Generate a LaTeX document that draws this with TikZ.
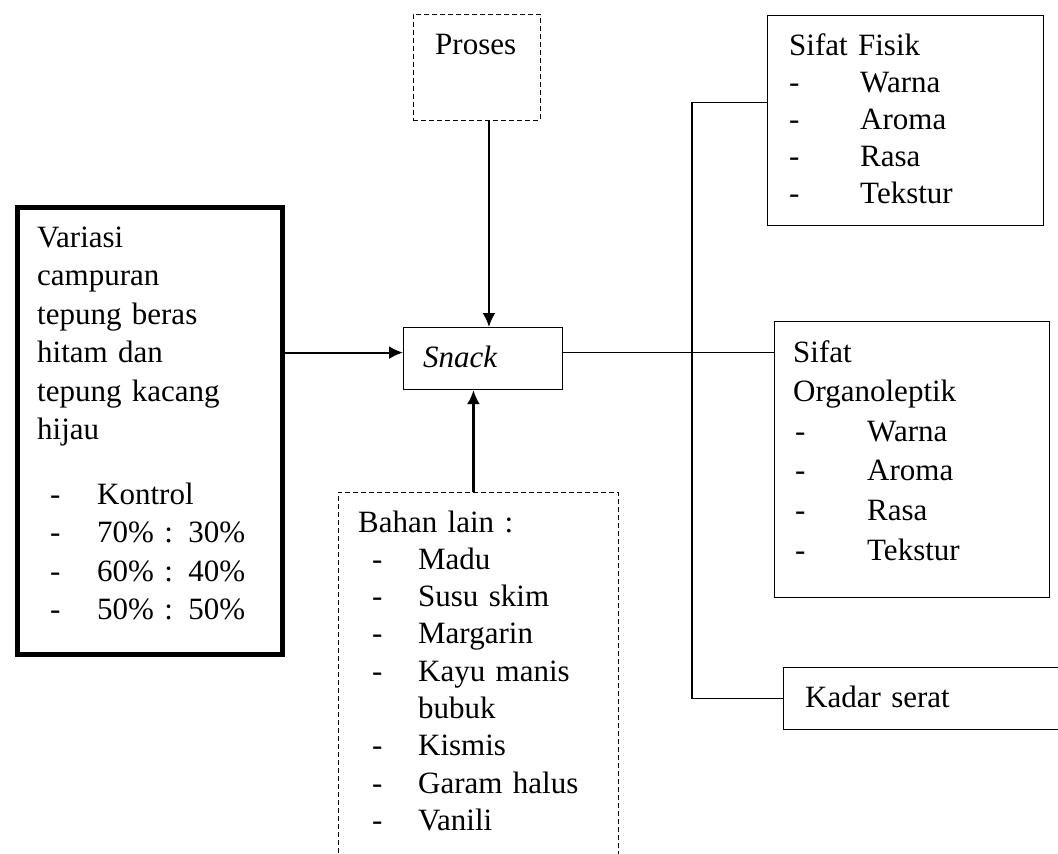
\documentclass[tikz,border=0pt]{standalone}
\usepackage{fontspec}
\setmainfont{Liberation Serif}
\usetikzlibrary{arrows.meta,calc,positioning}
\newcommand{\dashitem}[3]{\hspace*{#1pt}\makebox[#2pt][l]{-}#3}

\begin{document}
\begin{tikzpicture}[x=1pt,y=-1pt,>={Latex[length=14pt,width=13pt]},
    box/.style={draw,line width=1.2pt,inner sep=0pt,anchor=north west},
    dbox/.style={box,line width=0.9pt,dash pattern=on 5pt off 3pt},
    txt/.style={anchor=base west,inner sep=0pt,align=left,text width=250pt,
      font=\fontsize{31}{#1}\selectfont},
    txt/.default=38.5,
    arr/.style={->,line width=2.2pt},
    link/.style={line width=1.2pt}]
  \useasboundingbox (0,0) rectangle (1058,854);
  \clip (0,0) rectangle (1058,854);

  % kotak
  \node[dbox,minimum width=127pt,minimum height=106pt] (proses) at (413,14) {};
  \node[box,minimum width=159pt,minimum height=62pt] (snack) at (403,327) {};
  \node[box,line width=5pt,minimum width=265pt,minimum height=447pt] (variasi) at (14.5,204.5) {};
  \node[dbox,minimum width=280pt,minimum height=420pt] (bahan) at (338,492) {};
  \node[box,minimum width=276pt,minimum height=210pt] (fisik) at (767,15) {};
  \node[box,minimum width=275pt,minimum height=276pt] (organo) at (774,321) {};
  \node[box,minimum width=300pt,minimum height=62pt] (kadar) at (783,667) {};

  % teks
  \node[txt] (prosestxt) at (435,54) {Proses};
  \node[txt] (snacktxt) at (423,367) {\textit{Snack}};
  \node[txt] (variasitxt) at (37,247) {Variasi\\campuran\\tepung beras\\hitam dan\\tepung kacang\\hijau\\[26pt]
    \dashitem{13}{47}{Kontrol}\\\dashitem{13}{47}{70\% : 30\%}\\
    \dashitem{13}{47}{60\% : 40\%}\\\dashitem{13}{47}{50\% : 50\%}};
  \node[txt=37.3] (bahantxt) at (358,532) {Bahan lain :\\
    \dashitem{14}{46}{Madu}\\\dashitem{14}{46}{Susu skim}\\\dashitem{14}{46}{Margarin}\\
    \dashitem{14}{46}{Kayu manis}\\\hspace*{60pt}bubuk\\\dashitem{14}{46}{Kismis}\\
    \dashitem{14}{46}{Garam halus}\\\dashitem{14}{46}{Vanili}};
  \node[txt=37] (fisiktxt) at (789,55) {Sifat Fisik\\
    \dashitem{0}{71}{Warna}\\\dashitem{0}{71}{Aroma}\\\dashitem{0}{71}{Rasa}\\\dashitem{0}{71}{Tekstur}};
  \node[txt=39.6] (organotxt) at (793,362) {Sifat\\Organoleptik\\
    \dashitem{2}{72}{Warna}\\\dashitem{2}{72}{Aroma}\\\dashitem{2}{72}{Rasa}\\\dashitem{2}{72}{Tekstur}};
  \node[txt] (kadartxt) at (805,707) {Kadar serat};

  % panah dan garis
  \coordinate (trunk) at (692,0);
  \draw[arr] ([yshift=6]snack.west -| variasi.east) -- ([yshift=6]snack.west);
  \draw[arr] ([xshift=12]proses.south) -- ([xshift=12]proses.south |- snack.north);
  \draw[arr] ([xshift=-5]bahan.north) -- ([xshift=-5]bahan.north |- snack.south);
  \draw[link] ([yshift=6]snack.east) -- ([yshift=6]snack.east -| organo.west);
  \draw[link] ([yshift=18]fisik.west) -- ([yshift=18]fisik.west -| trunk)
    -- (trunk |- kadar.west) -- (kadar.west);
\end{tikzpicture}
\end{document}
